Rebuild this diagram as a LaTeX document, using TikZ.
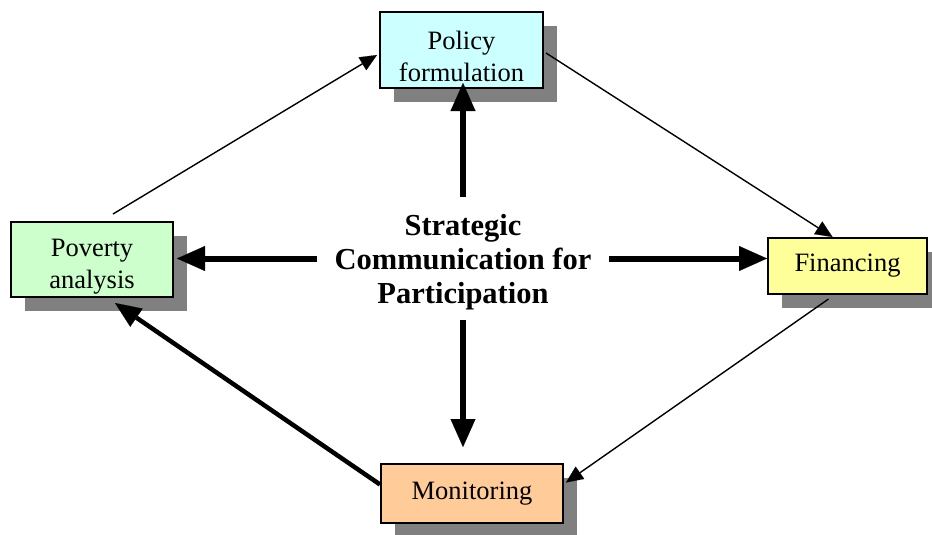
\documentclass[tikz,border=0pt]{standalone}
\usepackage{fontspec}
\setmainfont{Liberation Serif}
\usetikzlibrary{arrows.meta,shadows,calc}
\definecolor{cpolicy}{HTML}{CCFFFF}
\definecolor{cpoverty}{HTML}{CCFFCC}
\definecolor{cfin}{HTML}{FFFF99}
\definecolor{cmon}{HTML}{FFCC99}
\definecolor{shadowgray}{HTML}{808080}
\newcommand{\topstrut}[1]{\rule{0pt}{#1}}
\tikzset{
  box/.style={draw=black, line width=2pt, inner sep=0pt, align=center,
    font=\fontsize{26.5}{31.5}\selectfont,
    drop shadow={shadow xshift=14pt, shadow yshift=-14pt, fill=shadowgray, opacity=1}},
  bigarrow/.style={line width=6pt, -{Triangle[length=28pt,width=25pt,line width=0.1pt]}},
  midarrow/.style={line width=4.5pt, -{Triangle[length=26pt,width=22pt,line width=0.1pt]}},
  thinarrow/.style={line width=1.4pt, -{Triangle[length=17pt,width=15pt,line width=0.1pt]}},
}
\begin{document}
\begin{tikzpicture}[x=1pt,y=-1pt]
\useasboundingbox (0,0) rectangle (932,535);
\node[box, fill=cpolicy, minimum width=163pt, minimum height=76pt] (policy) at (461.5,50) {\topstrut{31pt}Policy\\formulation};
\node[box, fill=cpoverty, minimum width=162pt, minimum height=75pt] (poverty) at (92,259.5) {\topstrut{32pt}Poverty\\analysis};
\node[box, fill=cfin, minimum width=159pt, minimum height=56pt] (fin) at (847.5,266) {Financing};
\node[box, fill=cmon, minimum width=182pt, minimum height=59pt] (mon) at (472,493.5) {Monitoring};
\node[inner sep=0pt, minimum width=292pt, minimum height=123pt, align=center,
  font=\fontsize{30.5}{34}\selectfont\bfseries] (c) at (463,258.5)
  {\topstrut{29pt}Strategic\\Communication for\\Participation};
% thick arrows from center
\draw[bigarrow, shorten >=-6pt] (c.north) -- (c.north |- policy.south);
\draw[bigarrow, shorten >=3pt] (c.west) -- (c.west -| poverty.east);
\draw[bigarrow] (c.east) -- (c.east -| fin.west);
\draw[bigarrow, shorten >=16pt] (c.south) -- (c.south |- mon.north);
% cycle arrows
\draw[thinarrow] ($(poverty.north)+(21,-7)$) -- ($(policy.west)+(-2,5)$);
\draw[thinarrow] ($(policy.east)+(2,3)$) -- ($(fin.north)+(-15,0)$);
\draw[thinarrow] ($(fin.south)+(-19,4)$) -- ($(mon.east)+(2,-11)$);
\draw[midarrow] ($(mon.west)+(0,-9)$) -- ($(poverty.south)+(23,5)$);
\end{tikzpicture}
\end{document}
